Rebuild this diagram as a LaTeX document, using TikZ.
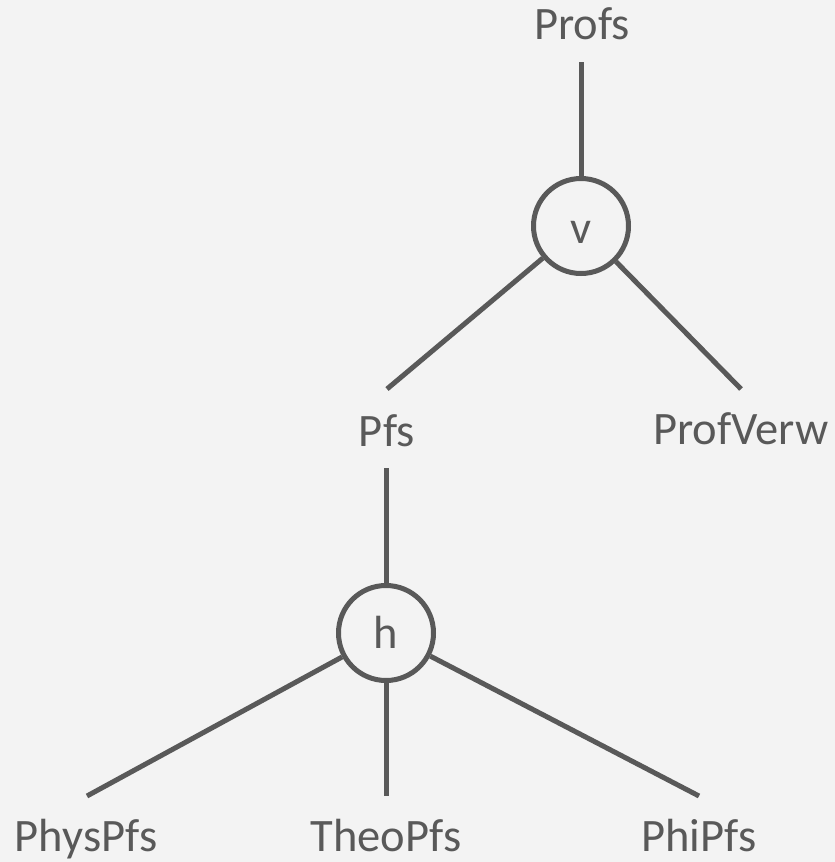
\documentclass[tikz,border=0pt]{standalone}
\usepackage{fontspec}
\setmainfont{Carlito}
\definecolor{bg}{HTML}{F3F3F3}
\definecolor{ink}{HTML}{595959}
\begin{document}
\begin{tikzpicture}[x=1pt,y=-1pt,
  lbl/.style={anchor=base,text=ink,font=\fontsize{46.5}{52}\selectfont,inner sep=0pt},
  op/.style={circle,draw=ink,line width=5pt,minimum size=95pt,inner sep=0pt},
  edge/.style={draw=ink,line width=5pt}]
\fill[bg] (0,0) rectangle (835,862);
\useasboundingbox (0,0) rectangle (835,862);
% labels
\node[lbl] (profs) at (582,39) {Profs};
\node[lbl] (pfs) at (387,446) {Pfs};
\node[lbl] (profverw) at (741,444) {ProfVerw};
\node[lbl] (phys) at (86,851) {PhysPfs};
\node[lbl] (theo) at (386,851) {TheoPfs};
\node[lbl] (phi) at (699,851) {PhiPfs};
% operator circles
\node[op] (v) at (581,226) {};
\node[lbl] (vl) at (581,243) {v};
\node[op] (h) at (386,633) {};
\node[lbl] (hl) at (386,648) {h};
% line ends
\coordinate (profsB) at (581,62);
\coordinate (pfsT) at (387,389);
\coordinate (verwT) at (741,389);
\coordinate (pfsB) at (386,468);
\coordinate (physT) at (87,796);
\coordinate (theoT) at (386,796);
\coordinate (phiT) at (699,796);
% connectors
\draw[edge] (profsB) -- (v);
\draw[edge] (v) -- (pfsT);
\draw[edge] (v) -- (verwT);
\draw[edge] (pfsB) -- (h);
\draw[edge] (h) -- (physT);
\draw[edge] (h) -- (theoT);
\draw[edge] (h) -- (phiT);
\end{tikzpicture}
\end{document}
